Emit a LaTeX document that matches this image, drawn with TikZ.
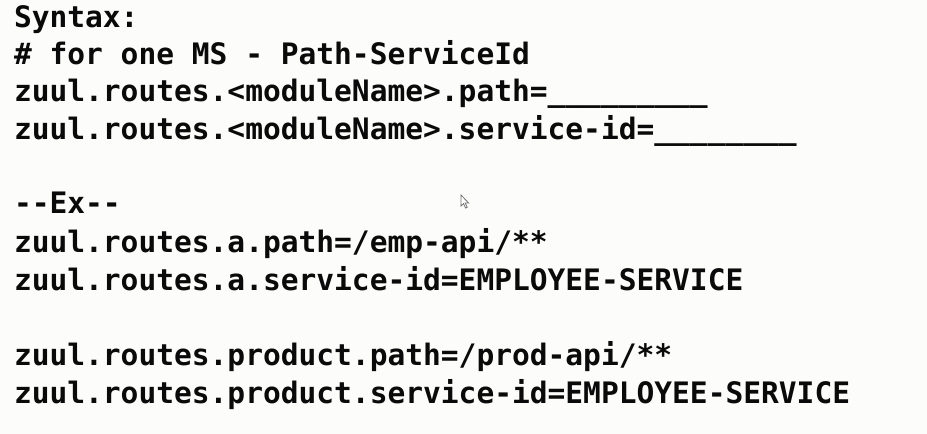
\documentclass[tikz,border=0pt]{standalone}
\usepackage{fontspec}
\setmonofont{DejaVu Sans Mono}
\definecolor{bg}{RGB}{252,252,250}
\definecolor{ink}{RGB}{10,10,10}
\begin{document}
\begin{tikzpicture}[x=1pt,y=-1pt,
  codeline/.style={anchor=base west, inner sep=0pt, outer sep=0pt, text=ink,
    font=\fontsize{29.55}{37.6}\selectfont\ttfamily\bfseries},
  pointer/.style={draw=black!55, fill=white, line width=0.8pt, line join=miter}]
\fill[bg] (0,0) rectangle (927,434);
\useasboundingbox (0,0) rectangle (927,434);
\node[codeline] (l1) at (14,27) {Syntax:};
\node[codeline] (l2) at (14,64) {\# for one MS - Path-ServiceId};
\node[codeline] (l3) at (14,101.5) {zuul.routes.<moduleName>.path=\_\_\_\_\_\_\_\_\_};
\node[codeline] (l4) at (14,139) {zuul.routes.<moduleName>.service-id=\_\_\_\_\_\_\_\_};
\node[codeline] (l5) at (14,213.5) {--Ex--};
\node[codeline] (l6) at (14,252.5) {zuul.routes.a.path=/emp-api/**};
\node[codeline] (l7) at (14,290) {zuul.routes.a.service-id=EMPLOYEE-SERVICE};
\node[codeline] (l8) at (14,365.5) {zuul.routes.product.path=/prod-api/**};
\node[codeline] (l9) at (14,403) {zuul.routes.product.service-id=EMPLOYEE-SERVICE};
% mouse pointer
\draw[pointer] (461,195) -- (461,206) -- (463.5,203.6) -- (465.6,208) -- (467.2,207.2)
  -- (465.2,203) -- (468.6,203) -- cycle;
\end{tikzpicture}
\end{document}
